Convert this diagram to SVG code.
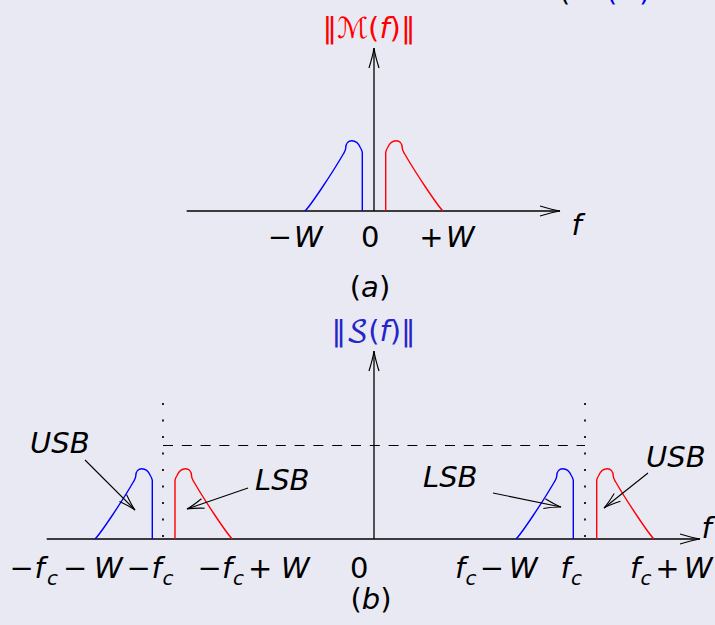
<svg xmlns="http://www.w3.org/2000/svg" xmlns:xlink="http://www.w3.org/1999/xlink" width="715" height="625" viewBox="0 0 715 625">
<style>
text{font-family:"DejaVu Sans","Liberation Sans",sans-serif;font-size:29px;fill:#000}
.it{font-style:italic}
.sub{font-size:20px;font-style:italic}
.ax{stroke:#000;stroke-width:1.3;fill:none}
.ann{stroke:#000;stroke-width:1.1;fill:none}
.blue{stroke:#0000ff;stroke-width:1.4;fill:none}
.red{stroke:#ff0000;stroke-width:1.4;fill:none}
.dot{stroke:#222;stroke-width:2;stroke-dasharray:2 14.5;fill:none}
.dash{stroke:#000;stroke-width:1.2;stroke-dasharray:10 8.8;fill:none}
</style>
<defs>
<marker id="axh" markerUnits="userSpaceOnUse" markerWidth="26" markerHeight="14" refX="21" refY="7" orient="auto" overflow="visible">
<path d="M1,2 Q14,6 21,7 Q14,8 1,12" fill="none" stroke="#000" stroke-width="1.2"/>
</marker>
<marker id="anh" markerUnits="userSpaceOnUse" markerWidth="22" markerHeight="14" refX="18" refY="7" orient="auto" overflow="visible">
<path d="M1,2 Q12,6 18,7 Q12,8 1,12" fill="none" stroke="#000" stroke-width="1.1"/>
</marker>
<path id="lobe" d="M-57.3,0 C-52,-5 -30,-38 -19,-57 C-17.5,-59.5 -16.6,-60.5 -16.6,-62.7 C-16.6,-68 -13.5,-70.3 -10.6,-70.3 C-6.5,-70.3 -3.5,-67 -2,-63.5 C-0.5,-61 0,-60 0,-58.7 L0,0"/>
</defs>
<rect width="715" height="625" fill="#e9e9f3"/>

<g id="title-clipped">
<text x="559" y="0.5">(</text>
<text x="606" y="0.5" style="fill:#0000ff">(</text>
<text x="639" y="0.5" style="fill:#0000ff">)</text>
</g>

<g id="plot-a">
<g id="axes-a">
<path class="ax" d="M186.7,211 L560,211" marker-end="url(#axh)"/>
<path class="ax" d="M374,211 L374,48" marker-end="url(#axh)"/>
</g>
<g id="spectrum-a">
<use xlink:href="#lobe" class="blue" transform="translate(362.3,211)"/>
<use xlink:href="#lobe" class="red" transform="translate(385.7,211) scale(-1,1)"/>
</g>
<text id="label-M" x="369" y="38" text-anchor="middle" style="fill:#ff0000">‖<tspan font-family="DejaVu Sans">ℳ</tspan>(<tspan class="it">f</tspan>)‖</text>
<text id="f-a" class="it" x="571.5" y="235">f</text>
<text id="ticks-a" y="247"><tspan x="267.7">−</tspan><tspan x="294" class="it">W</tspan><tspan x="361">0</tspan><tspan x="419.3">+</tspan><tspan x="446" class="it">W</tspan></text>
<text id="cap-a" x="370" y="297" text-anchor="middle">(<tspan class="it">a</tspan>)</text>
</g>

<g id="plot-b">
<g id="axes-b">
<path class="ax" d="M46.7,539 L700,539" marker-end="url(#axh)"/>
<path class="ax" d="M374,539 L374,351" marker-end="url(#axh)"/>
<path class="dot" d="M163,403 L163,539"/>
<path class="dot" d="M585,403 L585,539"/>
<path class="dash" d="M163,445.5 L585,445.5"/>
</g>
<g id="spectrum-b">
<use xlink:href="#lobe" class="blue" transform="translate(152.3,539)"/>
<use xlink:href="#lobe" class="red" transform="translate(175,539) scale(-1,1)"/>
<use xlink:href="#lobe" class="blue" transform="translate(573.3,539)"/>
<use xlink:href="#lobe" class="red" transform="translate(596.7,539) scale(-1,1)"/>
</g>
<text id="label-S" x="373.5" y="341" text-anchor="middle" style="fill:#2525c8">‖<tspan font-family="DejaVu Math TeX Gyre, Noto Sans Math, DejaVu Sans">𝒮</tspan>(<tspan class="it">f</tspan>)‖</text>
<text id="f-b" class="it" x="701.5" y="538">f</text>
<text id="ticks-b">
<tspan x="9.5" y="578">−</tspan><tspan x="34.5" y="578" class="it">f</tspan><tspan x="47" y="585" class="sub">c</tspan><tspan x="63" y="578">−</tspan><tspan x="94" y="578" class="it">W</tspan>
<tspan x="126.5" y="578">−</tspan><tspan x="151.5" y="578" class="it">f</tspan><tspan x="162.5" y="585" class="sub">c</tspan>
<tspan x="197.5" y="578">−</tspan><tspan x="222" y="578" class="it">f</tspan><tspan x="233" y="585" class="sub">c</tspan><tspan x="248" y="578">+</tspan><tspan x="281" y="578" class="it">W</tspan>
<tspan x="350" y="578">0</tspan>
<tspan x="455" y="578" class="it">f</tspan><tspan x="465.5" y="585" class="sub">c</tspan><tspan x="479.7" y="578">−</tspan><tspan x="509" y="578" class="it">W</tspan>
<tspan x="560.5" y="578" class="it">f</tspan><tspan x="571" y="585" class="sub">c</tspan>
<tspan x="630" y="578" class="it">f</tspan><tspan x="640.5" y="585" class="sub">c</tspan><tspan x="655.3" y="578">+</tspan><tspan x="684" y="578" class="it">W</tspan>
</text>
<text id="cap-b" x="371" y="609" text-anchor="middle">(<tspan class="it">b</tspan>)</text>
<g id="usb-left"><text class="it" x="30" y="452.5" font-size="28">USB</text></g>
<g id="lsb-left"><text class="it" x="255" y="490" font-size="28">LSB</text></g>
<g id="lsb-right"><text class="it" x="423" y="486.5" font-size="28">LSB</text></g>
<g id="usb-right"><text class="it" x="646" y="466.5" font-size="28">USB</text></g>
</g>

<g id="connectors">
<path class="ann" d="M85,460 L135,510" marker-end="url(#anh)"/>
<path class="ann" d="M248,488 L187,509" marker-end="url(#anh)"/>
<path class="ann" d="M493,493 L561,507" marker-end="url(#anh)"/>
<path class="ann" d="M648,473 L604,508" marker-end="url(#anh)"/>
</g>
</svg>
